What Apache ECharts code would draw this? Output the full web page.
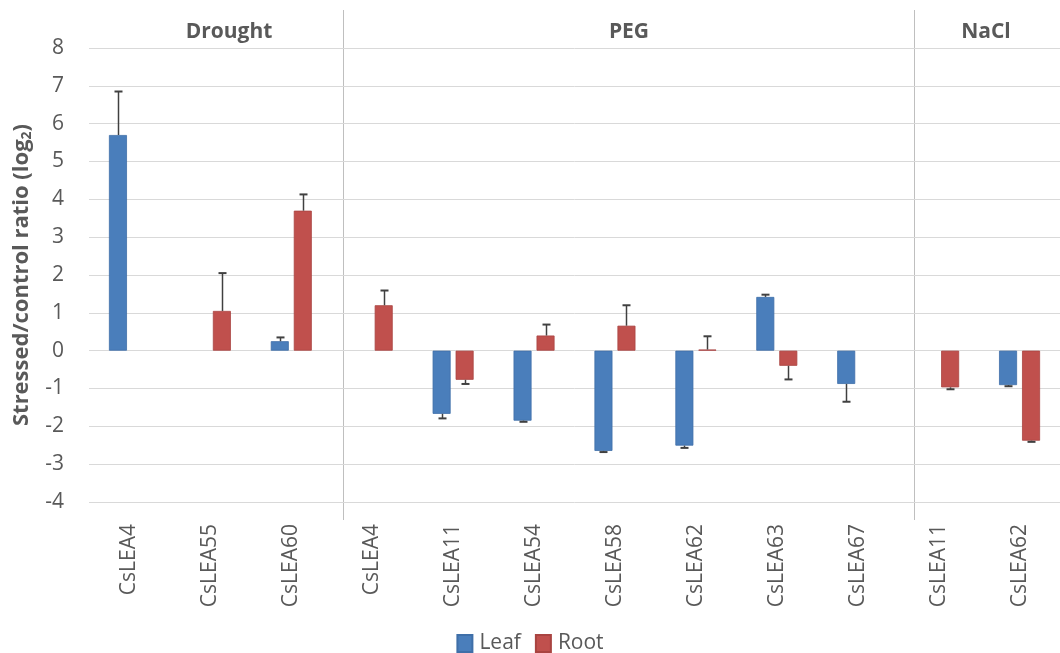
<!DOCTYPE html>
<html>
<head>
<meta charset="utf-8">
<script src="https://cdn.jsdelivr.net/npm/echarts@6/dist/echarts.min.js"></script>
<style>
  html, body { margin: 0; padding: 0; background: #fff; }
  #chart { width: 1060px; height: 653px; }
</style>
</head>
<body>
<div id="chart"></div>
<script>
// Gene categories along the x axis, grouped by stress treatment
const genes = ['CsLEA4', 'CsLEA55', 'CsLEA60', 'CsLEA4', 'CsLEA11', 'CsLEA54', 'CsLEA58',
               'CsLEA62', 'CsLEA63', 'CsLEA67', 'CsLEA11', 'CsLEA62'];
const groups = ['Drought', 'PEG', 'NaCl'];

// log2 stressed/control ratios (null = not measured)
const leaf    = [5.7, null, 0.25, null, -1.67, -1.85, -2.65, -2.51, 1.42, -0.88, null, -0.91];
const leafErr = [1.15, null, 0.10, null, 0.12, 0.03, 0.03, 0.06, 0.06, 0.47, null, 0.03];
const root    = [null, 1.05, 3.7, 1.2, -0.77, 0.40, 0.66, 0.03, -0.40, null, -0.97, -2.38];
const rootErr = [null, 1.00, 0.43, 0.39, 0.11, 0.29, 0.54, 0.35, 0.36, null, 0.05, 0.03];

// y axis scale
const yMin = -4, yMax = 8, yStep = 1;

const FONT = 'Open Sans';
const GREY = '#595959';
const BAR_W = 18, BAR_GAP = 5;
const SHIFT = (BAR_W + BAR_GAP) / 2;

function errorBars(name, vals, errs, dx) {
  const data = [];
  vals.forEach((v, i) => { if (v != null && errs[i] != null) data.push([i, v, errs[i]]); });
  return {
    type: 'custom', name, data, z: 10, silent: true,
    encode: { x: 0, y: 1 },
    renderItem(params, api) {
      const i = api.value(0), v = api.value(1), e = api.value(2);
      const end = v >= 0 ? v + e : v - e;
      const p0 = api.coord([i, v]);
      const p1 = api.coord([i, end]);
      const x = Math.round(p0[0] + dx) + 0.5;
      const cap = 4;
      return {
        type: 'group',
        children: [
          { type: 'line', shape: { x1: x, y1: p0[1], x2: x, y2: p1[1] },
            style: { stroke: '#404040', lineWidth: 1.5 } },
          { type: 'line', shape: { x1: x - cap, y1: p1[1], x2: x + cap, y2: p1[1] },
            style: { stroke: '#404040', lineWidth: 2 } }
        ]
      };
    }
  };
}

const groupFont = 'bold 21px "' + FONT + '"';

const chart = echarts.init(document.getElementById('chart'));
chart.setOption({
  backgroundColor: '#fff',
  animation: false,
  textStyle: { fontFamily: FONT },
  grid: { left: 89, top: 48, width: 984, height: 454, containLabel: false },
  legend: {
    data: ['Leaf', 'Root'],
    top: 628, left: 'center',
    icon: 'rect', itemWidth: 15, itemHeight: 17, itemGap: 14,
    textStyle: { fontFamily: FONT, fontSize: 21, color: GREY, padding: [0, 0, 0, 2] }
  },
  xAxis: {
    type: 'category',
    data: genes,
    axisLine: { show: false },
    axisTick: { show: false },
    axisLabel: { rotate: 90, interval: 0, margin: 22, fontSize: 21, color: GREY, fontFamily: FONT },
    splitLine: { show: false }
  },
  yAxis: {
    type: 'value',
    min: yMin, max: yMax, interval: yStep,
    axisLine: { show: false },
    axisTick: { show: false },
    axisLabel: { fontSize: 21, color: GREY, margin: 25, fontFamily: FONT },
    splitLine: { lineStyle: { color: '#d9d9d9', width: 1 } },
    name: '{a|Stressed/control ratio (log}{b|2}{a|)}',
    nameLocation: 'middle',
    nameRotate: 90,
    nameGap: 55,
    nameTextStyle: {
      rich: {
        a: { fontSize: 22, fontWeight: 'bold', color: GREY, fontFamily: FONT },
        b: { fontSize: 14, fontWeight: 'bold', color: GREY, fontFamily: FONT, verticalAlign: 'bottom', padding: [10, 0, 0, 0] }
      }
    }
  },
  series: [
    { name: 'Leaf', type: 'bar', data: leaf, barWidth: BAR_W, barGap: (BAR_GAP / BAR_W * 100) + '%',
      itemStyle: { color: '#4a7ebb', borderColor: '#3f6fa8', borderWidth: 0.8 } },
    { name: 'Root', type: 'bar', data: root, barWidth: BAR_W,
      itemStyle: { color: '#c0504d', borderColor: '#a94441', borderWidth: 0.8 } },
    errorBars('Leaf error', leaf, leafErr, -SHIFT),
    errorBars('Root error', root, rootErr, SHIFT)
  ],
  graphic: [
    { type: 'line', shape: { x1: 343.5, y1: 10, x2: 343.5, y2: 520 }, style: { stroke: '#bfbfbf', lineWidth: 1 } },
    { type: 'line', shape: { x1: 914.5, y1: 10, x2: 914.5, y2: 520 }, style: { stroke: '#bfbfbf', lineWidth: 1 } },
    { type: 'text', x: 229, y: 32, style: { text: groups[0], font: groupFont, fill: GREY, textAlign: 'center', textVerticalAlign: 'middle' } },
    { type: 'text', x: 629, y: 32, style: { text: groups[1], font: groupFont, fill: GREY, textAlign: 'center', textVerticalAlign: 'middle' } },
    { type: 'text', x: 986, y: 32, style: { text: groups[2], font: groupFont, fill: GREY, textAlign: 'center', textVerticalAlign: 'middle' } }
  ]
});
</script>
</body>
</html>
